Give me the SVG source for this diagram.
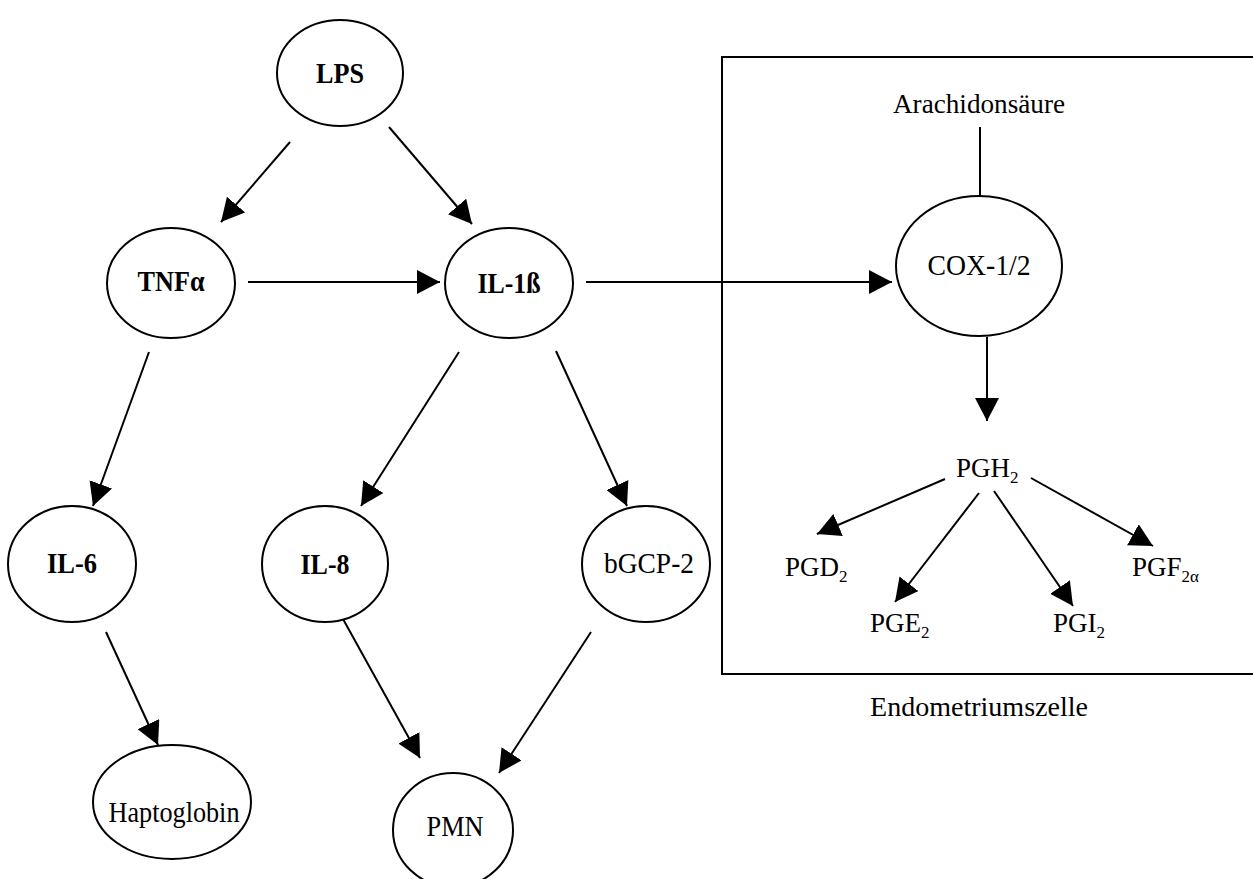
<svg xmlns="http://www.w3.org/2000/svg" width="1253" height="879" viewBox="0 0 1253 879">
<defs>
<style>
.n{fill:#fff;stroke:#000;stroke-width:2}
.t{font-family:"Liberation Serif","Times New Roman",serif;font-size:29px;fill:#000;text-anchor:middle}
.a{font-size:28px}
.b{font-weight:bold}
.l{font-family:"Liberation Serif","Times New Roman",serif;font-size:27px;fill:#000}
.s{font-size:17px}
.c line{stroke:#000;stroke-width:2}
</style>
<marker id="ah" markerUnits="userSpaceOnUse" markerWidth="24" markerHeight="24" refX="23" refY="12" orient="auto">
<path d="M0,0 L23,12 L0,24 z" fill="#000"/>
</marker>
</defs>
<rect width="1253" height="879" fill="#fff"/>
<g id="cell">
<rect x="722" y="57" width="545" height="617" fill="none" stroke="#000" stroke-width="2"/>
<text class="l" x="870" y="716" textLength="218" lengthAdjust="spacingAndGlyphs">Endometriumszelle</text>
</g>
<g class="c" id="connectors">
<line x1="290" y1="142" x2="221" y2="222" marker-end="url(#ah)"/>
<line x1="389" y1="127" x2="472" y2="224" marker-end="url(#ah)"/>
<line x1="248" y1="282" x2="440" y2="282" marker-end="url(#ah)"/>
<line x1="586" y1="282" x2="892" y2="282" marker-end="url(#ah)"/>
<line x1="149" y1="352" x2="93" y2="506" marker-end="url(#ah)"/>
<line x1="459" y1="352" x2="361" y2="506" marker-end="url(#ah)"/>
<line x1="556" y1="351" x2="627" y2="506" marker-end="url(#ah)"/>
<line x1="106" y1="632" x2="158" y2="745" marker-end="url(#ah)"/>
<line x1="343" y1="619" x2="420" y2="758" marker-end="url(#ah)"/>
<line x1="591" y1="632" x2="499" y2="773" marker-end="url(#ah)"/>
<line x1="980" y1="127" x2="980" y2="196"/>
<line x1="987" y1="337" x2="987" y2="421" marker-end="url(#ah)"/>
<line x1="945" y1="479" x2="817" y2="534" marker-end="url(#ah)"/>
<line x1="979" y1="493" x2="895" y2="602" marker-end="url(#ah)"/>
<line x1="994" y1="491" x2="1073" y2="606" marker-end="url(#ah)"/>
<line x1="1031" y1="478" x2="1153" y2="546" marker-end="url(#ah)"/>
</g>
<g id="LPS"><ellipse class="n" cx="340" cy="73" rx="63" ry="53"/><text class="t b" x="340" y="83" textLength="48" lengthAdjust="spacingAndGlyphs">LPS</text></g>
<g id="TNFa"><ellipse class="n" cx="171" cy="283" rx="64" ry="55"/><text class="t b" x="171" y="291" textLength="67" lengthAdjust="spacingAndGlyphs">TNFα</text></g>
<g id="IL1b"><ellipse class="n" cx="509" cy="283" rx="64" ry="55"/><text class="t b" x="509" y="293" textLength="63" lengthAdjust="spacingAndGlyphs">IL-1ß</text></g>
<g id="IL6"><ellipse class="n" cx="72" cy="564" rx="64" ry="58"/><text class="t b" x="72" y="573" textLength="50" lengthAdjust="spacingAndGlyphs">IL-6</text></g>
<g id="IL8"><ellipse class="n" cx="325" cy="564" rx="63" ry="58"/><text class="t b" x="325" y="574" textLength="49" lengthAdjust="spacingAndGlyphs">IL-8</text></g>
<g id="bGCP2"><ellipse class="n" cx="646" cy="564" rx="64" ry="58"/><text class="t" x="649" y="573" textLength="90" lengthAdjust="spacingAndGlyphs">bGCP-2</text></g>
<g id="Haptoglobin"><ellipse class="n" cx="172" cy="802" rx="79" ry="57"/><text class="t" x="174" y="822" textLength="131" lengthAdjust="spacingAndGlyphs">Haptoglobin</text></g>
<g id="PMN"><ellipse class="n" cx="453" cy="830" rx="60" ry="57"/><text class="t" x="455" y="836" textLength="57" lengthAdjust="spacingAndGlyphs">PMN</text></g>
<g id="COX"><ellipse class="n" cx="979" cy="266" rx="83" ry="70"/><text class="t" x="979" y="275" textLength="103" lengthAdjust="spacingAndGlyphs">COX-1/2</text></g>
<g id="Arachidonsaeure"><text class="t a" x="979" y="113" textLength="172" lengthAdjust="spacingAndGlyphs">Arachidonsäure</text></g>
<g id="PGH2"><text class="l" x="956" y="477">PGH<tspan class="s" dy="6">2</tspan></text></g>
<g id="PGD2"><text class="l" x="785" y="576">PGD<tspan class="s" dy="6">2</tspan></text></g>
<g id="PGE2"><text class="l" x="870" y="632">PGE<tspan class="s" dy="6">2</tspan></text></g>
<g id="PGI2"><text class="l" x="1053" y="632">PGI<tspan class="s" dy="6">2</tspan></text></g>
<g id="PGF2a"><text class="l" x="1132" y="576">PGF<tspan class="s" dy="6">2α</tspan></text></g>
</svg>
